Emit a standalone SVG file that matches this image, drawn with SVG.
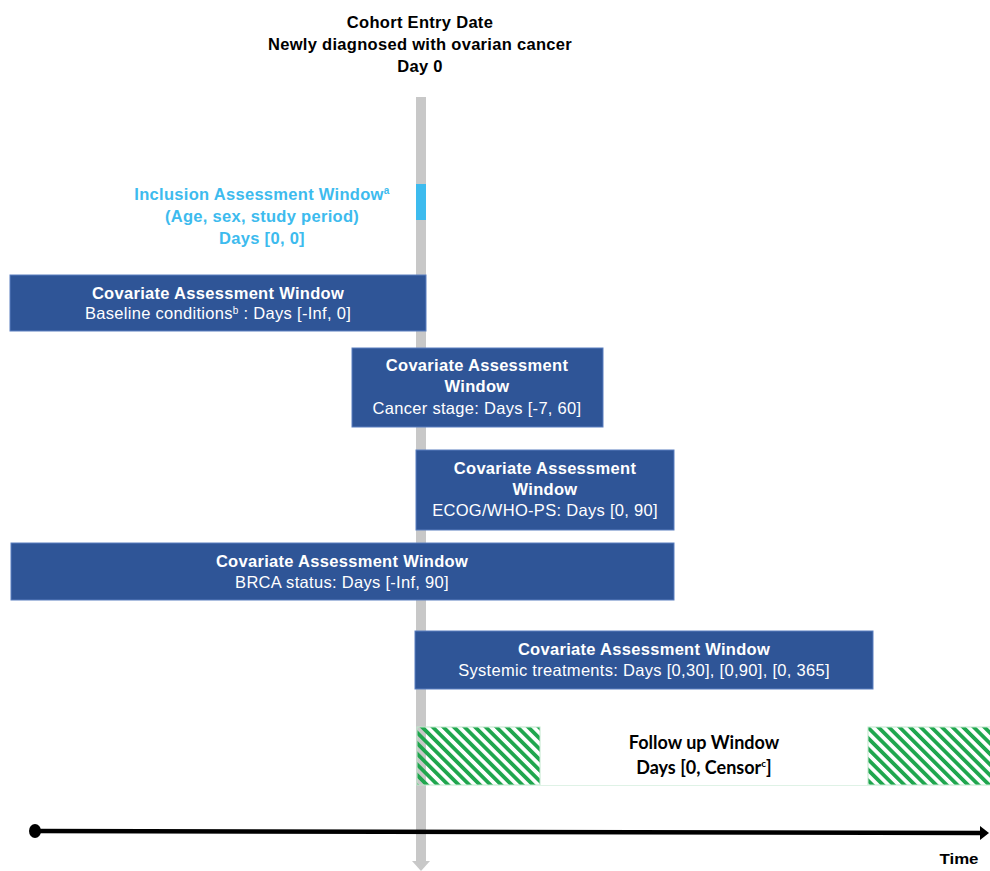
<svg xmlns="http://www.w3.org/2000/svg" width="990" height="871" viewBox="0 0 990 871">
<style>
.t{font-family:"Liberation Sans",Arial,sans-serif;font-size:16.5px;letter-spacing:0.3px;text-anchor:middle}
.b{font-weight:bold}
.w{fill:#ffffff}
.k{fill:#000000}
.c{fill:#3dbbee}
.box{fill:#2f5597;stroke:#5b7fbf;stroke-width:1}
.f{font-family:Lato,"Open Sans",sans-serif;font-size:18px;font-weight:bold;text-anchor:middle;fill:#000}
</style>
<defs>
<pattern id="hatch" width="7.5" height="7.5" patternUnits="userSpaceOnUse" patternTransform="rotate(-45)">
<rect x="0" y="0" width="3.8" height="7.5" fill="#1fa64e"/>
</pattern>
<marker id="tip" markerWidth="9" markerHeight="14" refX="1" refY="7" orient="auto" markerUnits="userSpaceOnUse">
<path d="M0,0 L9,7 L0,14 Z" fill="#000"/>
</marker>
</defs>
<rect width="990" height="871" fill="#ffffff"/>
<g id="connectors">
<rect x="416" y="97" width="10" height="765" fill="#c8c8c8"/>
<path d="M412,861 L430,861 L421,871 Z" fill="#c8c8c8"/>
<line x1="34" y1="831" x2="981" y2="833" stroke="#000" stroke-width="4.5" marker-end="url(#tip)"/>
<ellipse cx="35" cy="831" rx="6" ry="7" fill="#000"/>
</g>
<g id="title">
<text class="t b k" x="420" y="28">Cohort Entry Date</text>
<text class="t b k" x="420" y="50">Newly diagnosed with ovarian cancer</text>
<text class="t b k" x="420" y="72">Day 0</text>
</g>
<g id="inclusion">
<rect x="416" y="184" width="10" height="36" fill="#3dbbee"/>
<text class="t b c" x="262" y="200">Inclusion Assessment Window<tspan font-size="10" dy="-6">a</tspan></text>
<text class="t b c" x="262" y="222">(Age, sex, study period)</text>
<text class="t b c" x="262" y="244">Days [0, 0]</text>
</g>
<g id="cov-baseline">
<rect class="box" x="10" y="275" width="416" height="56"/>
<text class="t b w" x="218" y="299">Covariate Assessment Window</text>
<text class="t w" x="218" y="319">Baseline conditions<tspan font-size="10" dy="-5">b</tspan><tspan dy="5"> : Days [-Inf, 0]</tspan></text>
</g>
<g id="cov-stage">
<rect class="box" x="352" y="348" width="251" height="79"/>
<text class="t b w" x="477" y="371">Covariate Assessment</text>
<text class="t b w" x="477" y="392">Window</text>
<text class="t w" x="477" y="414">Cancer stage: Days [-7, 60]</text>
</g>
<g id="cov-ecog">
<rect class="box" x="416" y="450" width="258" height="80"/>
<text class="t b w" x="545" y="474">Covariate Assessment</text>
<text class="t b w" x="545" y="495">Window</text>
<text class="t w" x="545" y="516">ECOG/WHO-PS: Days [0, 90]</text>
</g>
<g id="cov-brca">
<rect class="box" x="11" y="543" width="663" height="57"/>
<text class="t b w" x="342" y="567">Covariate Assessment Window</text>
<text class="t w" x="342" y="588">BRCA status: Days [-Inf, 90]</text>
</g>
<g id="cov-systemic">
<rect class="box" x="415" y="631" width="458" height="58"/>
<text class="t b w" x="644" y="655">Covariate Assessment Window</text>
<text class="t w" x="644" y="676">Systemic treatments: Days [0,30], [0,90], [0, 365]</text>
</g>
<g id="followup">
<rect x="417" y="727" width="123" height="58" fill="url(#hatch)" stroke="#bfe8cc" stroke-width="1"/>
<rect x="868" y="727" width="123" height="58" fill="url(#hatch)" stroke="#bfe8cc" stroke-width="1"/>
<line x1="540" y1="785.5" x2="868" y2="785.5" stroke="#dff2e6" stroke-width="1"/>
<text class="f" x="704" y="749">Follow up Window</text>
<text class="f" x="704" y="774">Days [0, Censor<tspan font-size="10" dy="-7">c</tspan><tspan dy="7">]</tspan></text>
</g>
<g id="time-label">
<text x="959" y="864" font-family="'Liberation Sans',Arial,sans-serif" font-size="15" font-weight="bold" text-anchor="middle" fill="#000" textLength="39" lengthAdjust="spacingAndGlyphs">Time</text>
</g>
</svg>
